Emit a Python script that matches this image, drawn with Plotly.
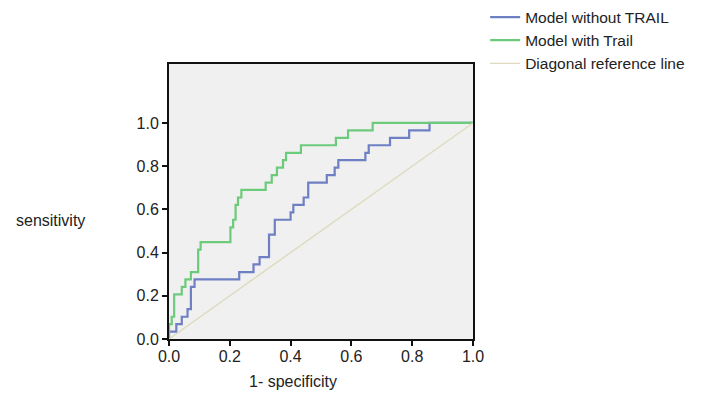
import plotly.graph_objects as go

# ROC staircase vertices (1 - specificity, sensitivity)
fpr_without = [0, 0, 0.024, 0.042, 0.061, 0.072, 0.084, 0.231, 0.278, 0.298, 0.329, 0.348, 0.400, 0.409, 0.443, 0.458, 0.519, 0.545, 0.557, 0.646, 0.657, 0.727, 0.790, 0.857, 1.0]
tpr_without = [0, 0.034, 0.069, 0.103, 0.138, 0.241, 0.276, 0.310, 0.345, 0.379, 0.483, 0.552, 0.586, 0.621, 0.655, 0.724, 0.759, 0.793, 0.828, 0.862, 0.897, 0.931, 0.966, 1.0, 1.0]

fpr_with = [0, 0, 0.009, 0.017, 0.042, 0.054, 0.072, 0.096, 0.104, 0.202, 0.211, 0.219, 0.227, 0.238, 0.318, 0.338, 0.355, 0.375, 0.385, 0.434, 0.549, 0.589, 0.670, 1.0]
tpr_with = [0, 0.069, 0.103, 0.207, 0.241, 0.276, 0.310, 0.414, 0.448, 0.517, 0.552, 0.621, 0.655, 0.690, 0.724, 0.759, 0.793, 0.828, 0.862, 0.897, 0.931, 0.966, 1.0, 1.0]

diag = [0, 1]
tick_vals = [0.0, 0.2, 0.4, 0.6, 0.8, 1.0]
tick_text = ["0.0", "0.2", "0.4", "0.6", "0.8", "1.0"]

FONT = "Liberation Sans, Arial, sans-serif"

fig = go.Figure()
fig.add_trace(go.Scatter(x=fpr_without, y=tpr_without, mode="lines", line_shape="hv",
                         name="Model without TRAIL", line=dict(color="#6e7fc4", width=2.2)))
fig.add_trace(go.Scatter(x=fpr_with, y=tpr_with, mode="lines", line_shape="hv",
                         name="Model with Trail", line=dict(color="#6ccb7b", width=2.2)))
fig.add_trace(go.Scatter(x=diag, y=diag, mode="lines",
                         name="Diagonal reference line", line=dict(color="#dedabc", width=1.4)))

# page body has an 8px default margin, so the figure is 8px smaller
fig.update_layout(
    width=705, height=397,
    margin=dict(l=161, r=240, t=56, b=66, autoexpand=False),
    paper_bgcolor="white", plot_bgcolor="#f0f0f0",
    font=dict(family=FONT, size=16, color="#222"),
    showlegend=True,
    legend=dict(x=1.04, xanchor="left", y=1.231, yanchor="top",
                bgcolor="rgba(0,0,0,0)", font=dict(size=15.5, color="#222"),
                tracegroupgap=0, itemwidth=30),
    annotations=[
        dict(text="sensitivity", xref="paper", yref="paper", x=-0.39, y=0.43,
             xanchor="center", yanchor="middle",
             showarrow=False, font=dict(size=16, color="#222")),
        dict(text="1- specificity", xref="paper", yref="paper", x=0.408, y=-0.153,
             xanchor="center", yanchor="middle",
             showarrow=False, font=dict(size=16, color="#222")),
    ],
)
fig.update_xaxes(range=[0, 1], tickvals=tick_vals, ticktext=tick_text, showgrid=False, zeroline=False,
                 showline=True, linecolor="#111", linewidth=2, mirror=True,
                 ticks="outside", ticklen=5, tickwidth=1.5, tickcolor="#111",
                 ticklabelstandoff=-3,
                 tickfont=dict(size=16, color="#222"))
fig.update_yaxes(range=[0, 1.273], tickvals=tick_vals, ticktext=tick_text, showgrid=False, zeroline=False,
                 showline=True, linecolor="#111", linewidth=2, mirror=True,
                 ticks="outside", ticklen=5, tickwidth=1.5, tickcolor="#111",
                 tickfont=dict(size=16, color="#222"))

fig.write_html("out.html")
